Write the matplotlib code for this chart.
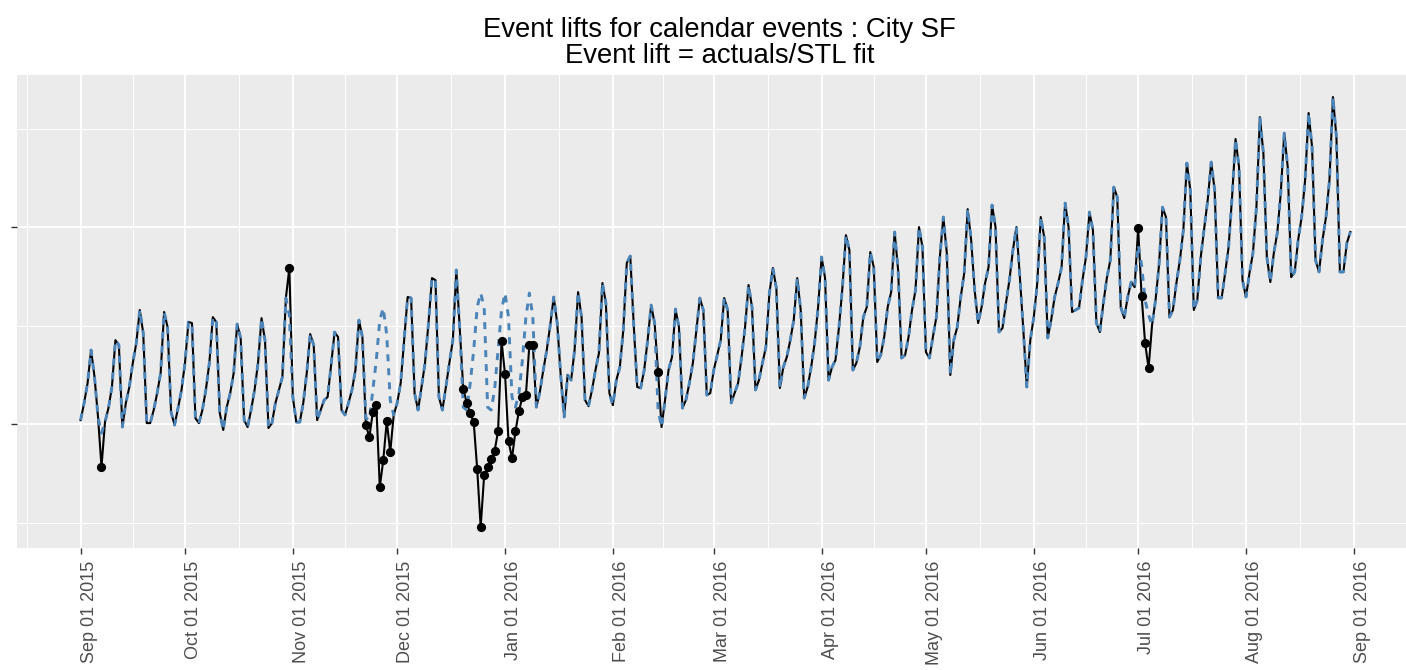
import numpy as np
import pandas as pd
import matplotlib
matplotlib.use("Agg")
import matplotlib.pyplot as plt
import matplotlib.dates as mdates

# STL fit, one value per day starting Tue Sep 01 2015 (rows = 7 days)
fit = [
    102.0, 110.7, 120.8, 137.6, 123.9, 103.6, 95.4,
    101.0, 108.1, 118.8, 142.6, 140.1, 98.5, 110.7,
    118.8, 131.0, 141.1, 157.9, 146.2, 100.5, 100.5,
    107.1, 115.7, 125.9, 156.9, 149.2, 106.1, 99.5,
    108.1, 117.3, 131.0, 151.8, 151.3, 103.0, 100.5,
    107.1, 117.3, 131.0, 154.3, 151.8, 105.6, 97.0,
    108.6, 115.7, 125.9, 150.8, 143.7, 102.0, 98.5,
    107.1, 117.3, 131.0, 153.8, 142.6, 98.0, 100.5,
    110.7, 117.3, 123.9, 164.0, 155.3, 113.7, 101.0,
    101.0, 110.7, 125.9, 145.7, 140.1, 102.0, 107.1,
    112.2, 113.7, 129.9, 146.7, 144.2, 107.1, 104.6,
    110.7, 117.3, 127.4, 152.8, 144.2, 103.0, 102.0,
    117.3, 132.5, 152.8, 158.9, 145.2, 112.2, 104.6,
    110.7, 120.8, 142.6, 164.5, 164.0, 115.7, 107.1,
    118.8, 131.0, 151.3, 174.1, 173.1, 113.7, 107.1,
    118.8, 131.0, 142.6, 178.2, 147.7, 108.6, 107.1,
    120.8, 137.6, 159.4, 166.5, 159.4, 108.6, 107.1,
    117.3, 137.6, 157.9, 166.5, 154.3, 113.7, 108.6,
    115.7, 132.5, 154.3, 166.5, 154.3, 108.6, 116.2,
    127.4, 137.6, 150.3, 164.5, 151.3, 124.9, 103.6,
    124.9, 122.3, 137.6, 167.0, 154.3, 112.2, 109.1,
    117.3, 127.4, 136.0, 171.6, 161.4, 115.7, 109.6,
    122.3, 128.9, 147.7, 181.7, 185.3, 150.3, 118.8,
    118.3, 127.4, 142.6, 160.4, 151.3, 107.1, 98.5,
    112.2, 127.4, 134.0, 158.4, 149.2, 108.1, 112.2,
    120.8, 131.0, 147.7, 164.0, 157.9, 114.7, 115.7,
    127.4, 135.0, 142.6, 164.0, 157.9, 110.7, 115.7,
    120.8, 134.0, 149.2, 170.6, 159.4, 117.3, 122.3,
    131.0, 139.1, 166.5, 179.2, 169.0, 118.3, 128.9,
    134.0, 142.6, 152.8, 174.1, 157.9, 113.2, 118.8,
    128.9, 141.1, 159.4, 184.8, 174.1, 122.3, 128.9,
    132.5, 149.2, 169.5, 195.9, 188.3, 127.4, 131.0,
    139.1, 154.3, 159.4, 187.3, 179.7, 131.5, 135.0,
    144.2, 159.4, 167.0, 197.5, 178.2, 133.5, 135.0,
    144.2, 157.9, 168.0, 200.0, 189.8, 136.5, 133.5,
    144.2, 154.3, 184.8, 205.1, 186.8, 124.9, 142.6,
    149.2, 164.5, 176.6, 209.1, 193.4, 168.0, 151.3,
    159.4, 171.6, 179.7, 211.2, 200.0, 146.7, 148.7,
    161.4, 173.1, 188.3, 200.0, 174.6, 147.7, 118.8,
    142.6, 154.3, 171.6, 205.1, 194.9, 143.7, 152.8,
    164.5, 171.6, 179.7, 212.2, 200.0, 156.9, 157.9,
    158.9, 173.1, 184.8, 207.6, 198.5, 151.3, 146.7,
    161.4, 174.1, 183.2, 220.3, 215.2, 159.4, 153.8,
    164.5, 172.1, 169.5, 190.9, 180.7, 162.9, 155.3,
    150.3, 162.9, 180.7, 210.1, 205.1, 154.3, 157.9,
    171.6, 183.2, 198.5, 232.5, 218.8, 157.9, 162.9,
    184.8, 199.5, 213.7, 233.0, 218.8, 164.0, 164.0,
    176.6, 189.8, 215.2, 244.7, 230.5, 173.1, 164.5,
    176.6, 186.8, 210.1, 255.8, 237.6, 184.8, 172.1,
    186.8, 197.0, 217.3, 247.7, 230.5, 174.6, 177.2,
    193.4, 205.1, 223.9, 257.9, 240.6, 183.2, 177.2,
    193.4, 205.1, 223.9, 266.0, 245.7, 177.2, 177.2,
    191.9, 197.5,
]

# calendar event days: actuals differ from the fit
event_dates = (
    ["2015-09-07", "2015-10-31"]
    + ["2015-11-%02d" % d for d in range(22, 30)]
    + ["2015-12-%02d" % d for d in range(20, 32)]
    + ["2016-01-%02d" % d for d in range(1, 10)]
    + ["2016-02-14"]
    + ["2016-07-%02d" % d for d in range(1, 5)]
)
event_actuals = [
    78.2, 179.2,
    99.5, 93.4, 106.1, 109.6, 68.0, 81.7, 101.5, 85.8,
    117.8, 110.7, 105.6, 101.0, 77.2, 47.7, 74.1, 78.2, 82.2, 86.3, 96.4, 142.1,
    125.4, 91.4, 82.7, 96.4, 106.6, 113.7, 114.7, 140.1, 140.1,
    126.4,
    199.5, 165.0, 141.1, 128.4,
]

start = pd.Timestamp("2015-09-01")
dates = pd.date_range(start, periods=len(fit), freq="D")
fit_s = pd.Series(fit, index=dates)
actuals = fit_s.copy()
ev = pd.to_datetime(event_dates)
actuals[ev] = event_actuals

W, H = 1406, 670
fig = plt.figure(figsize=(W / 100, H / 100), dpi=100)
ax = fig.add_axes([17 / W, (H - 548) / H, 1 - 17 / W, (548 - 75) / H])
ax.set_facecolor("#EBEBEB")
for s in ax.spines.values():
    s.set_visible(False)

ax.plot(actuals.index, actuals.values, color="black", lw=1.5, zorder=3)
ax.plot(fit_s.index, fit_s.values, color="#4A84B8", lw=2.1, dashes=(2.4, 2.4), zorder=4)
ax.plot(ev, actuals[ev].values, "o", color="black", ms=5.6, zorder=5)

# axes
ax.set_xlim(start - pd.Timedelta(days=18.29), start + pd.Timedelta(days=378.57))
ax.set_ylim(37.1, 277.2)

months = pd.date_range("2015-09-01", "2016-09-01", freq="MS")
allm = pd.date_range("2015-08-01", "2016-10-01", freq="MS")
mids = [allm[i] + (allm[i + 1] - allm[i]) / 2 for i in range(len(allm) - 1)]
ax.set_xticks(months)
ax.set_xticks(mids, minor=True)
ax.set_xticklabels([m.strftime("%b %d %Y") for m in months], rotation=90,
                   ha="left", fontsize=13, color="#4D4D4D",
                   family="Liberation Sans")
ax.set_yticks([100, 200])
ax.set_yticks([50, 150, 250], minor=True)
ax.set_yticklabels(["", ""])

ax.grid(which="major", color="white", lw=1.4)
ax.grid(which="minor", color="white", lw=0.7)
ax.set_axisbelow(True)
ax.tick_params(which="major", length=4, width=1.0, color="#333333", pad=5)
ax.tick_params(which="minor", length=0)

fig.text(719.5 / W, 1 - 17 / H,
         "Event lifts for calendar events : City SF\nEvent lift = actuals/STL fit",
         ha="center", va="top", fontsize=19.8, family="Liberation Sans",
         linespacing=0.98)

fig.savefig("out.png", dpi=100)
